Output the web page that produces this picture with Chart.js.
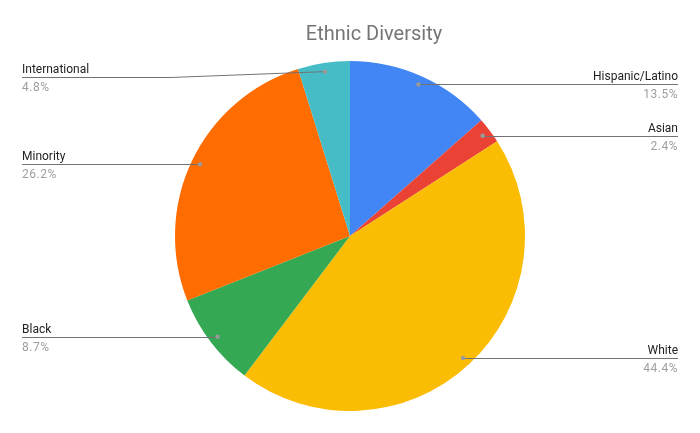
<!DOCTYPE html>
<html>
<head>
<meta charset="utf-8">
<script src="https://cdn.jsdelivr.net/npm/chart.js@4"></script>
<style>
  body { margin: 0; background: #fff; }
  #wrap { width: 700px; height: 433px; }
</style>
</head>
<body>
<div id="wrap"><canvas id="pie" width="700" height="433"></canvas></div>
<script>
var chartTitle = 'Ethnic Diversity';
var groups = ['Hispanic/Latino', 'Asian', 'White', 'Black', 'Minority', 'International'];
var shares = [13.5, 2.4, 44.4, 8.7, 26.2, 4.8];
var sliceColors = ['#4285F4', '#EA4335', '#FBBC04', '#34A853', '#FF6D01', '#46BDC6'];

// leader lines + labels like the sheets pie
var sideLabels = {
    id: 'sideLabels',
    afterDraw: function(chart) {
        var ctx = chart.ctx;
        var meta = chart.getDatasetMeta(0);
        var total = shares.reduce(function(a, b) { return a + b; }, 0);

        ctx.save();
        ctx.font = '20px Roboto';
        ctx.fillStyle = '#757575';
        ctx.textAlign = 'center';
        ctx.textBaseline = 'alphabetic';
        ctx.fillText(chartTitle, 374, 40);

        for (var i = 0; i < meta.data.length; i++) {
            var arc = meta.data[i];
            var r = arc.outerRadius;
            var mid = (arc.startAngle + arc.endAngle) / 2;
            var dx = arc.x + Math.cos(mid) * r * 0.95;
            var dy = arc.y + Math.sin(mid) * r * 0.95;
            var right = Math.cos(mid) >= 0;
            var ly = Math.round(Math.max(dy, 77)) + 0.5;
            var elbow = right ? arc.x + r + 5 : arc.x - r - 5;
            var endX = right ? 678 : 22;

            ctx.strokeStyle = '#737373';
            ctx.lineWidth = 1;
            ctx.beginPath();
            ctx.moveTo(dx, dy);
            if (Math.abs(dy - ly) > 1) ctx.lineTo(elbow, ly);
            else ctx.lineTo(dx, ly);
            ctx.lineTo(endX, ly);
            ctx.stroke();

            ctx.fillStyle = '#9a9a9a';
            ctx.beginPath();
            ctx.arc(dx, dy, 2.2, 0, Math.PI * 2);
            ctx.fill();

            ctx.textAlign = right ? 'right' : 'left';
            ctx.font = '12px Roboto';
            ctx.letterSpacing = '0px';
            ctx.fillStyle = '#222222';
            ctx.fillText(groups[i], endX, ly - 5);
            ctx.fillStyle = '#9e9e9e';
            ctx.letterSpacing = '0.5px';
            ctx.fillText((shares[i] / total * 100).toFixed(1) + '%', endX, ly + 13);
        }
        ctx.restore();
    }
};

new Chart(document.getElementById('pie'), {
    type: 'pie',
    data: {
        labels: groups,
        datasets: [{
            data: shares,
            backgroundColor: sliceColors,
            borderWidth: 0
        }]
    },
    options: {
        responsive: false,
        devicePixelRatio: 1,
        animation: false,
        layout: { padding: { top: 61, bottom: 22, left: 175, right: 175 } },
        plugins: {
            legend: { display: false },
            tooltip: { enabled: false },
            title: { display: false }
        }
    },
    plugins: [sideLabels]
});
</script>
</body>
</html>
